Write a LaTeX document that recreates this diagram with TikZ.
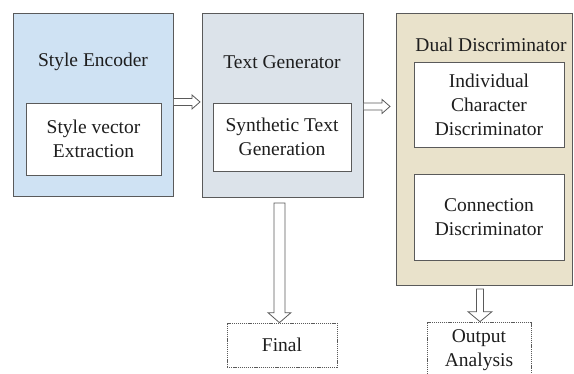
\documentclass[tikz,border=0pt]{standalone}
\usepackage{fontspec}
\setmainfont{Liberation Serif}
\usetikzlibrary{calc}

% block arrow drawn as an outline, start -> tip
\newcommand{\hollowarrowright}[5]{%
    \draw[hollow arrow] let \p1=(#1), \p2=(#2) in
        (\x1,\y1+#3) -- (\x2-#5,\y1+#3) -- (\x2-#5,\y1+#4) -- (\x2,\y1)
        -- (\x2-#5,\y1-#4) -- (\x2-#5,\y1-#3) -- (\x1,\y1-#3);
}
\newcommand{\hollowarrowdown}[5]{%
    \draw[hollow arrow] let \p1=(#1), \p2=(#2) in
        (\x1-#3,\y1) -- (\x1-#3,\y2+#5) -- (\x1-#4,\y2+#5) -- (\x1,\y2)
        -- (\x1+#4,\y2+#5) -- (\x1+#3,\y2+#5) -- (\x1+#3,\y1) -- cycle;
}

\begin{document}
\begin{tikzpicture}[
    x=1pt,
    y=-1pt,
    line join=miter,
    font=\fontsize{19.5}{24}\selectfont
]

\definecolor{EncoderBlue}{HTML}{CFE2F3}
\definecolor{GeneratorGray}{HTML}{DCE3EA}
\definecolor{DiscBeige}{HTML}{E9E2CB}
\definecolor{FrameGray}{HTML}{5A5A5A}
\definecolor{TextDark}{HTML}{1E1E1E}

\tikzset{
    module/.style={
        draw=FrameGray,
        fill=#1,
        line width=0.9pt,
        inner sep=0pt,
        anchor=north west
    },
    inner block/.style={
        draw=FrameGray,
        fill=white,
        line width=0.8pt,
        align=center,
        inner sep=0pt,
        text=TextDark
    },
    result box/.style={
        draw=FrameGray,
        fill=white,
        line width=0.7pt,
        dash pattern=on 1.2pt off 0.9pt,
        align=center,
        inner sep=0pt,
        text=TextDark
    },
    title/.style={
        text=TextDark,
        inner sep=0pt
    },
    hollow arrow/.style={
        draw=FrameGray,
        fill=white,
        line width=0.8pt
    }
}

\useasboundingbox (0,0) rectangle (574,373);
\clip (0,0) rectangle (574,373);

% main modules
\node[module=EncoderBlue, minimum width=160pt, minimum height=183pt] (enc) at (13,13) {};
\node[module=GeneratorGray, minimum width=161pt, minimum height=184pt] (gen) at (202,13) {};
\node[module=DiscBeige, minimum width=176pt, minimum height=272pt] (disc) at (396,13) {};

\node[title] (enctitle) at (93,62) {Style Encoder};
\node[title] (gentitle) at (282,62) {Text Generator};
\node[title] (disctitle) at (491,45) {Dual Discriminator};

% inner blocks
\node[inner block, minimum width=135pt, minimum height=72pt] (extract) at (93.5,139) {Style vector\\Extraction};
\node[inner block, minimum width=138pt, minimum height=68pt] (synth) at (282,137) {Synthetic Text\\Generation};
\node[inner block, minimum width=150pt, minimum height=85pt] (chardisc) at (489,104.5) {Individual\\Character\\Discriminator};
\node[inner block, minimum width=150pt, minimum height=86pt] (conndisc) at (489,217) {Connection\\Discriminator};

% results
\node[result box, minimum width=110pt, minimum height=44pt] (final) at (282,345) {Final};
\node[result box, minimum width=104pt, minimum height=56pt] (analysis) at (479,350) {Output\\Analysis};

% arrows
\hollowarrowright{$(enc.east)+(0,-3)$}{$(gen.west)+(-2,-3)$}{3.5pt}{7pt}{8pt}
\hollowarrowright{$(gen.east)+(0,1)$}{$(disc.west)+(-6,1)$}{3.5pt}{7pt}{8pt}
\hollowarrowdown{$(gen.south)+(-3.5,5)$}{final.north}{5.5pt}{11.5pt}{10pt}
\hollowarrowdown{$(disc.south)+(-4.5,3)$}{analysis.north}{3.5pt}{12pt}{10pt}

\end{tikzpicture}
\end{document}
